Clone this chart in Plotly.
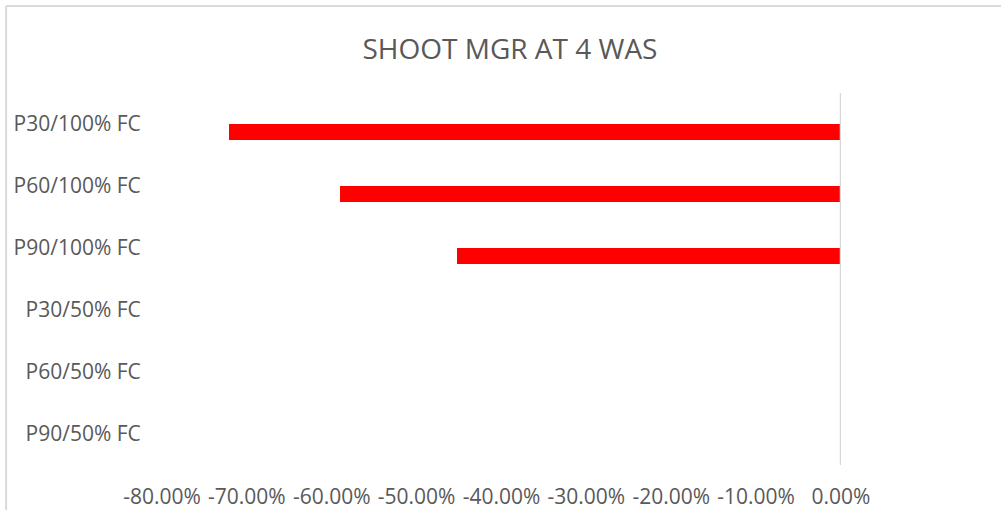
import plotly.graph_objects as go

categories = ["P30/100% FC", "P60/100% FC", "P90/100% FC",
              "P30/50% FC", "P60/50% FC", "P90/50% FC"]
values = [-0.721, -0.590, -0.453, None, None, None]
x_ticks = [-0.8, -0.7, -0.6, -0.5, -0.4, -0.3, -0.2, -0.1, 0.0]
x_tick_labels = ["-80.00%", "-70.00%", "-60.00%", "-50.00%", "-40.00%",
                 "-30.00%", "-20.00%", "-10.00%", "0.00%"]
title_text = "SHOOT MGR AT 4 WAS"

W, H = 1001, 510
ML, MR, MT, MB = 162, 159.5, 93, 45
pw = W - ML - MR
ph = H - MT - MB

TXT = "#595959"
FONT = "Open Sans"

fig = go.Figure()
fig.add_trace(go.Bar(
    y=categories, x=values, orientation="h",
    marker=dict(color="#FF0000", line=dict(width=0)),
    width=0.26, offset=0,
    showlegend=False, hoverinfo="skip",
))

shapes = [
    # vertical axis line at 0
    dict(type="line", xref="x", yref="paper", x0=0, x1=0, y0=0, y1=1,
         line=dict(color="#D9D9D9", width=2.5), layer="above"),
    # chart frame (top and left)
    dict(type="line", xref="paper", yref="paper",
         x0=(6 - ML) / pw, x1=(W + 10 - ML) / pw,
         y0=(H - MB - 6) / ph, y1=(H - MB - 6) / ph,
         line=dict(color="#D9D9D9", width=2)),
    dict(type="line", xref="paper", yref="paper",
         x0=(6 - ML) / pw, x1=(6 - ML) / pw,
         y0=(H - MB - 6) / ph, y1=(H - MB - H - 10) / ph,
         line=dict(color="#D9D9D9", width=2)),
]

fig.update_layout(
    width=W, height=H,
    margin=dict(l=ML, r=MR, t=MT, b=MB, pad=0, autoexpand=False),
    paper_bgcolor="white", plot_bgcolor="white",
    title=dict(text=title_text, x=510 / W, xref="container", xanchor="center",
               y=1 - 49 / H, yanchor="middle",
               font=dict(family=FONT, size=28, color=TXT)),
    font=dict(family=FONT, color=TXT),
    xaxis=dict(range=[-0.8, 0.0], tickvals=x_ticks, ticktext=x_tick_labels,
               showgrid=False, zeroline=False, showline=False,
               automargin=False,
               ticks="outside", ticklen=13, tickcolor="rgba(0,0,0,0)",
               tickfont=dict(family=FONT, size=21, color=TXT)),
    yaxis=dict(categoryorder="array", categoryarray=categories,
               autorange="reversed", showgrid=False, zeroline=False,
               showline=False, automargin=False,
               ticks="outside", ticklen=16,
               tickcolor="rgba(0,0,0,0)",
               tickfont=dict(family=FONT, size=21, color=TXT)),
    shapes=shapes,
    bargap=0,
)

fig.write_html("out.html",
               config={"displayModeBar": False},
               post_script="document.body.style.margin='0';document.body.style.overflow='hidden';")
